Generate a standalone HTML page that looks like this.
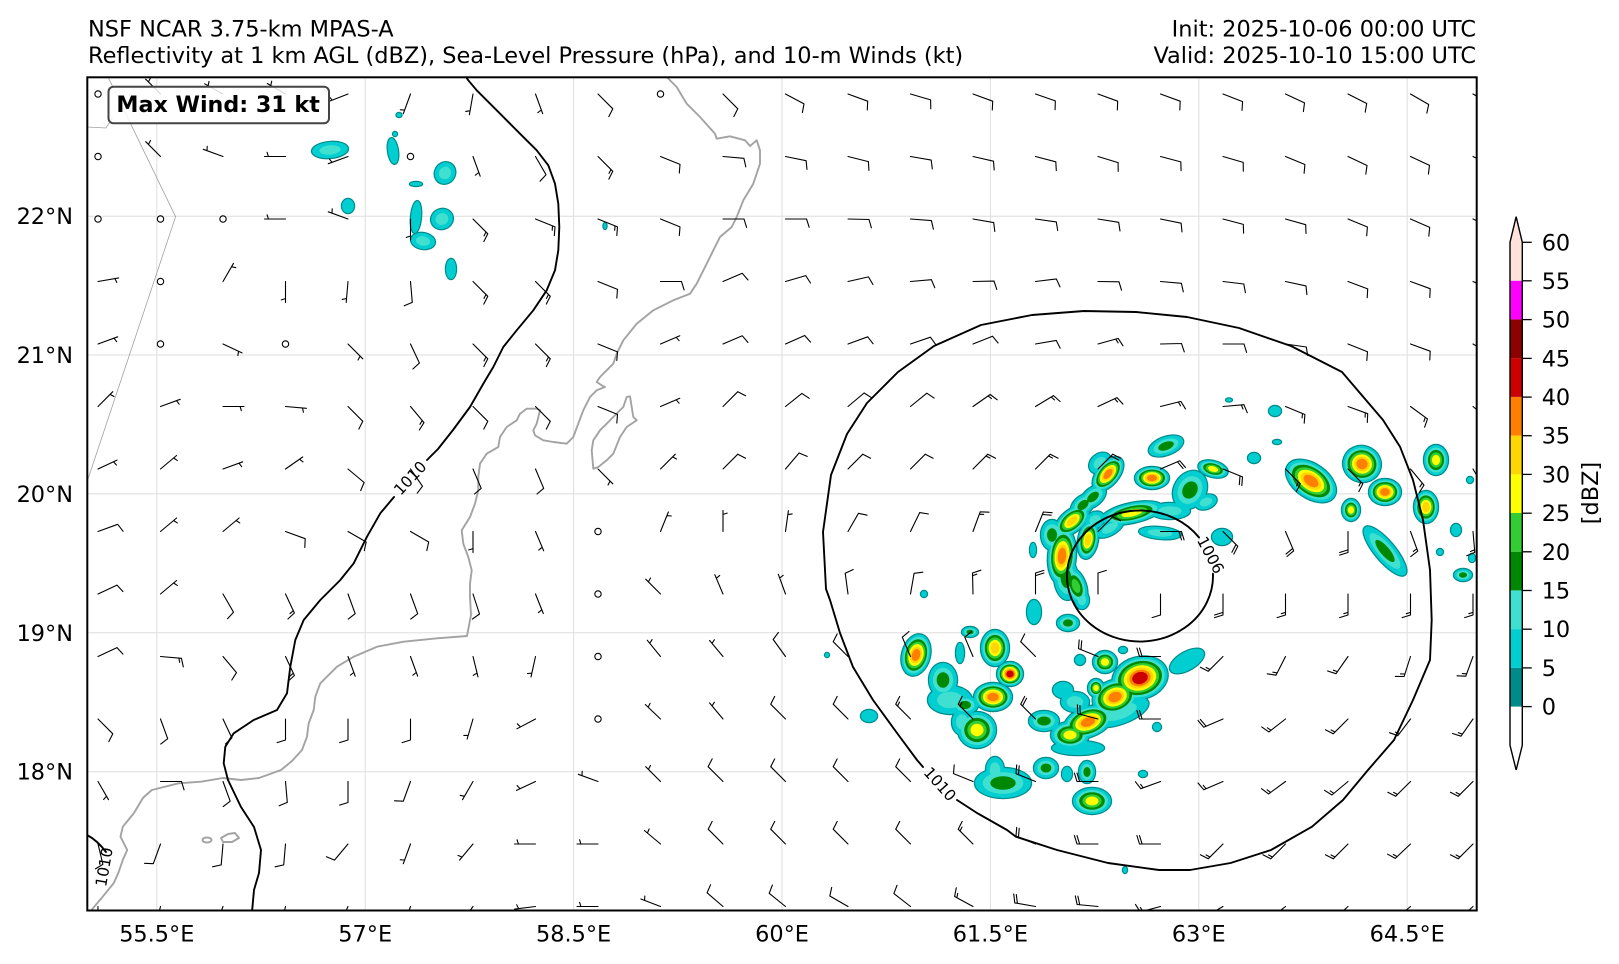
<!DOCTYPE html>
<html><head><meta charset="utf-8">
<style>
html,body{margin:0;padding:0;background:#fff;}
svg{display:block;}
text{font-family:"DejaVu Sans","Liberation Sans",sans-serif;fill:#000;}
</style></head><body>
<svg id="s" width="1619" height="964" viewBox="0 0 1619 964" xmlns="http://www.w3.org/2000/svg">
<defs><clipPath id="mc"><rect x="87.3" y="77.3" width="1389.4" height="833.2"/></clipPath></defs>
<rect width="1619" height="964" fill="#fff"/>
<text x="88" y="36.5" font-size="22.45">NSF NCAR 3.75-km MPAS-A</text>
<text x="88" y="63" font-size="22.45">Reflectivity at 1 km AGL (dBZ), Sea-Level Pressure (hPa), and 10-m Winds (kt)</text>
<text x="1476" y="36.5" font-size="22.45" text-anchor="end">Init: 2025-10-06 00:00 UTC</text>
<text x="1476" y="63" font-size="22.45" text-anchor="end">Valid: 2025-10-10 15:00 UTC</text>

<g clip-path="url(#mc)">
  <g stroke="#dedede" stroke-width="1">
    <line x1="156.8" y1="77" x2="156.8" y2="911"/>
    <line x1="365.2" y1="77" x2="365.2" y2="911"/>
    <line x1="573.6" y1="77" x2="573.6" y2="911"/>
    <line x1="782" y1="77" x2="782" y2="911"/>
    <line x1="990.4" y1="77" x2="990.4" y2="911"/>
    <line x1="1198.8" y1="77" x2="1198.8" y2="911"/>
    <line x1="1407.2" y1="77" x2="1407.2" y2="911"/>
    <line x1="87" y1="216.2" x2="1477" y2="216.2"/>
    <line x1="87" y1="355" x2="1477" y2="355"/>
    <line x1="87" y1="493.9" x2="1477" y2="493.9"/>
    <line x1="87" y1="632.8" x2="1477" y2="632.8"/>
    <line x1="87" y1="771.7" x2="1477" y2="771.7"/>
  </g>
  <g id="refl"></g>
  <g fill="none" stroke="#a0a0a0" stroke-width="0.8">
    <path d="M87,127 L106,128 L113,117"/>
    <path d="M108,77 L175.6,216.7 L87,482"/>
  </g>
  <g fill="none" stroke="#a3a3a3" stroke-width="1.9" stroke-linejoin="round">
    <path d="M666.7,77 L676.7,87 L686.7,103.7 L700,117 L715,133.7 L716.7,138.7 L730,136.3 L745,140.3 L750,146 L756.7,140.3 L760,150.3 L760,163.7 L753.3,183.7 L743.3,200.3 L736.7,217 L731.7,227 L720,237 L713.3,250.3 L706.7,263.7 L696.7,283.7 L690,293.7 L673.3,300.3 L653.3,310.3 L636.7,323.7 L623.3,340.3 L616.7,353.7 L613.3,363.7 L606.7,370.3 L600,377 L596.7,382 L601.7,385.3 L605,387 L596.7,390.3 L590,397 L583.3,410.3 L578.3,423.7 L573.3,437 L566.7,443.7 L553.3,442 L543.3,440.3 L535,435.3 L533.3,430.3 L536.7,423.7 L540,410.3 L536.7,408.7 L526.7,408.7 L520,413.7 L516.7,420.3 L506.7,427 L500,437 L498.3,447 L486.7,453.7 L480,463.7 L478.3,477 L478.3,490.3 L475,503.7 L470,517 L461.7,530.3 L463.3,543.7 L468.3,557 L471.7,570.3 L470,583.7 L470,597 L471,615 L467,636 L437,638.3 L403.7,641.7 L377,646.7 L353.7,656.7 L337,666.7 L320.3,683.3 L315.3,696.7 L313.7,710 L308.7,723.3 L307,736.7 L302,750 L292,761 L281,770 L259,778 L241,780 L223,778 L201,781.7 L178.6,783.3 L151.8,790 L142.9,798 L134,813 L122.8,826.7 L120.5,836.7 L127.2,850 L122.8,860 L118.3,873 L113.8,883 L102.7,896.7 L91.5,910"/>
    <path d="M593.3,468.7 L591.7,450.3 L593.3,440.3 L600,430.3 L606.7,423.7 L613.3,417 L623.3,407 L626.7,397 L630,396.3 L631.7,407 L633.3,417 L636.7,420.3 L626.7,427 L620,437 L613.3,453.7 L606.7,460.3 L598.3,467 Z"/>
    <ellipse cx="207" cy="840" rx="4.5" ry="2.5"/>
    <path d="M221,838 L228,834 L235,833 L239,838 L232,842 L223,842 Z"/>
  </g>
  <g fill="none" stroke="#000" stroke-width="1.9" stroke-linejoin="round" stroke-linecap="round">
    <path d="M466,77 L468.3,80.3 L476.7,90.3 L496.7,110.3 L520,133.7 L536.7,150.3 L548.3,165.3 L555,183.7 L558.3,203.7 L559.3,227 L558.3,250.3 L555,270.3 L546.7,290.3 L533.3,310.3 L516.7,330.3 L503.3,347 L493.3,367 L483.3,383.7 L470,407 L453,430 L438,449 L427,460"/>
    <path d="M394,497 L380.3,513.3 L367,536.7 L353.7,563.3 L340.3,580 L320.3,600 L303.7,620 L295.3,640 L290.3,666.7 L287,693.3 L277,710 L253.7,720 L233.7,733.3 L225.3,746.7 L223.7,763.3 L228,780 L241,807 L254,827 L261,850 L259,873 L254,890 L252,912"/>
    <path d="M957,800 L977,813 L1007,830 L1016,836.7 L1057,850 L1108,863 L1159,870 L1190,870 L1230.6,863 L1271,850 L1312,826.7 L1343,800 L1368,770 L1394,740 L1413,700 L1430,660 L1431.7,620 L1430,570 L1423,520 L1413,480 L1400,446.7 L1383,420 L1342,372 L1291,346 L1239,328 L1187,317 L1136,312 L1084,311 L1032,315 L981,325 L934,346 L898,372 L867,403 L847,434 L831,475 L823,532 L826,589 L830,600 L840,633 L853,667 L873,700 L897,733 L917,760 L923,767"/>
    <path d="M1212.96,573.7 A73,65.5 0 1 1 1199.06,537.5"/>
    <path d="M87,835 Q97,840 106,852"/>
  </g>
  <g font-size="15.5" text-anchor="middle">
    <text x="0" y="0" transform="translate(410,478) rotate(-47)" dy="5.5">1010</text>
    <text x="0" y="0" transform="translate(940,784) rotate(48)" dy="5.5">1010</text>
    <text x="0" y="0" transform="translate(1210.7,555) rotate(62)" dy="5.5">1006</text>
    <text x="0" y="0" transform="translate(104,867) rotate(-80)" dy="5.5">1010</text>
  </g>
  <g id="barbs" stroke="#000" stroke-width="1.1" fill="none" stroke-linecap="round"></g>
</g>
<rect x="87.3" y="77.3" width="1389.4" height="833.2" fill="none" stroke="#000" stroke-width="2"/>

<g font-size="22.4" text-anchor="end">
  <text x="73" y="224.2">22°N</text>
  <text x="73" y="363">21°N</text>
  <text x="73" y="501.9">20°N</text>
  <text x="73" y="640.8">19°N</text>
  <text x="73" y="779.7">18°N</text>
</g>
<g font-size="22.4" text-anchor="middle">
  <text x="156.8" y="941.7">55.5°E</text>
  <text x="365.2" y="941.7">57°E</text>
  <text x="573.6" y="941.7">58.5°E</text>
  <text x="782" y="941.7">60°E</text>
  <text x="990.4" y="941.7">61.5°E</text>
  <text x="1198.8" y="941.7">63°E</text>
  <text x="1407.2" y="941.7">64.5°E</text>
</g>

<g>
  <rect x="1510" y="706.6" width="12.3" height="38.7" fill="#ffffff"/>
  <rect x="1510" y="667.9" width="12.3" height="38.7" fill="#008b8b"/>
  <rect x="1510" y="629.1" width="12.3" height="38.8" fill="#00ced1"/>
  <rect x="1510" y="590.4" width="12.3" height="38.7" fill="#40e0d0"/>
  <rect x="1510" y="551.7" width="12.3" height="38.7" fill="#008800"/>
  <rect x="1510" y="513.0" width="12.3" height="38.7" fill="#32cd32"/>
  <rect x="1510" y="474.3" width="12.3" height="38.7" fill="#ffff00"/>
  <rect x="1510" y="435.6" width="12.3" height="38.7" fill="#ffd700"/>
  <rect x="1510" y="396.9" width="12.3" height="38.7" fill="#ff8000"/>
  <rect x="1510" y="358.1" width="12.3" height="38.8" fill="#cc0000"/>
  <rect x="1510" y="319.4" width="12.3" height="38.7" fill="#8b0000"/>
  <rect x="1510" y="280.7" width="12.3" height="38.7" fill="#ff00ff"/>
  <rect x="1510" y="242.0" width="12.3" height="38.7" fill="#ffe2dc"/>
  <polygon points="1510,242.3 1516.15,216.7 1522.3,242.3" fill="#ffe2dc"/>
  <polygon points="1510,745.3 1516.15,770 1522.3,745.3" fill="#ffffff"/>
  <path d="M1510,242.3 L1516.15,216.7 L1522.3,242.3 L1522.3,745.3 L1516.15,770 L1510,745.3 Z" fill="none" stroke="#000" stroke-width="1.4"/>
  <g stroke="#000" stroke-width="1.3">
    <line x1="1522.3" y1="706.6" x2="1531.7" y2="706.6"/>
    <line x1="1522.3" y1="667.9" x2="1531.7" y2="667.9"/>
    <line x1="1522.3" y1="629.2" x2="1531.7" y2="629.2"/>
    <line x1="1522.3" y1="590.5" x2="1531.7" y2="590.5"/>
    <line x1="1522.3" y1="551.8" x2="1531.7" y2="551.8"/>
    <line x1="1522.3" y1="513.2" x2="1531.7" y2="513.2"/>
    <line x1="1522.3" y1="474.4" x2="1531.7" y2="474.4"/>
    <line x1="1522.3" y1="435.7" x2="1531.7" y2="435.7"/>
    <line x1="1522.3" y1="397.1" x2="1531.7" y2="397.1"/>
    <line x1="1522.3" y1="358.4" x2="1531.7" y2="358.4"/>
    <line x1="1522.3" y1="319.6" x2="1531.7" y2="319.6"/>
    <line x1="1522.3" y1="280.8" x2="1531.7" y2="280.8"/>
    <line x1="1522.3" y1="242.3" x2="1531.7" y2="242.3"/>
  </g>
  <g font-size="22.4">
    <text x="1541.7" y="714.6">0</text>
    <text x="1541.7" y="675.9">5</text>
    <text x="1541.7" y="637.2">10</text>
    <text x="1541.7" y="598.5">15</text>
    <text x="1541.7" y="559.8">20</text>
    <text x="1541.7" y="521.2">25</text>
    <text x="1541.7" y="482.4">30</text>
    <text x="1541.7" y="443.7">35</text>
    <text x="1541.7" y="405.1">40</text>
    <text x="1541.7" y="366.4">45</text>
    <text x="1541.7" y="327.6">50</text>
    <text x="1541.7" y="288.8">55</text>
    <text x="1541.7" y="250.3">60</text>
  </g>
  <text x="0" y="0" font-size="22.4" text-anchor="middle" transform="translate(1598,493) rotate(-90)">[dBZ]</text>
</g>

<rect x="108.5" y="86.7" width="220.5" height="36.6" rx="5" ry="5" fill="#ffffff" fill-opacity="0.85" stroke="#444" stroke-width="2"/>
<text x="116.4" y="112" font-size="22.2" font-weight="bold">Max Wind: 31 kt</text>
</svg>
<script>
(function(){
var C=[
[330,150,18,8,-5,2],[393,151,5,13,-8,1],[445,173,10,11,30,2],[416,184,6,2,0,1],[348,206,6,7,0,1],
[416,217,5,16,5,1],[442,219,11,10,-20,2],[423,241,12,8,10,2],[451,269,5,10,0,1],
[399,115,2.5,2,0,1],[395,134,2,2,0,1],[605,226,1.5,3,0,1],
[1100,463,12,9,-40,2],[1083,505,14,9,-40,3],[1052,535,11,15,0,3],[1066,578,12,22,-5,3],[1095,520,10,8,-30,2],
[1108,474,20,11,-50,7],[1093,497,15,9,-40,3],[1072,521,20,11,-40,6],[1062,556,14,28,5,7],
[1076,586,10,19,-20,4],[1088,540,10,19,10,6],[1082,600,7,9,0,2],[1132,513,31,10,-12,5],
[1110,528,15,7,-30,2],[1170,511,20,8,0,2],[1160,533,21,6,5,2],[1190,490,16,20,30,3],
[1206,502,11,7,-20,2],[1152,478,17,11,0,7],[1166,446,18,9,-20,3],[1213,469,15,8,15,5],
[1254,458,6,5,0,1],[1277,442,4,2,0,1],[1311,481,28,17,35,7],[1362,464,19,18,20,7],
[1385,492,16,13,0,7],[1351,510,9,11,0,5],[1385,551,31,10,50,3],[1426,507,12,16,0,6],
[1436,460,12,15,0,5],[1456,530,5,6,0,1],[1440,552,3,3,0,1],[1463,575,9,6,0,3],
[1470,480,3,3,0,1],[1472,558,3,4,0,1],[1033,550,3,7,0,1],[1068,623,11,8,0,3],
[1222,537,10,8,0,1],[1123,650,4,3,0,1],[1193,653,3,3,0,1],[1229,400,3,1.5,0,1],[1275,411,6,5,0,1],
[916,655,14,21,15,7],[943,680,14,17,0,3],[970,632,8,5,0,3],[960,653,4,10,0,1],
[995,648,14,18,0,6],[1010,674,13,12,0,8],[993,697,19,14,0,7],[965,705,13,9,0,3],
[977,730,19,18,0,5],[962,722,10,13,0,2],[950,700,22,14,0,2],[869,716,8,6,0,1],[827,655,2,2,0,1],[924,594,3,3,0,1],
[1034,612,7,12,0,1],[1063,690,10,8,0,1],[1080,660,5,5,0,1],[1105,662,12,11,0,5],
[1044,721,15,10,0,3],[1140,678,28,21,-15,8],[1115,697,23,17,-20,7],[1096,688,8,9,0,5],
[1120,712,30,12,-20,2],[1075,702,14,10,0,2],
[1088,722,25,15,-20,7],[1070,735,19,13,0,5],[1078,748,26,7,0,1],[1157,727,4,4,0,1],
[1187,661,19,9,-30,1],[1003,783,28,15,0,3],[995,770,9,13,0,2],[1046,768,12,10,0,3],
[1067,774,5,7,0,1],[1087,772,8,11,0,3],[1092,801,19,13,0,5],[1143,774,4,3,0,1],[1125,870,2,3,0,1]
];
var cols=['','#00ced1','#40e0d0','#008800','#32cd32','#ffff00','#ffd700','#ff8000','#cc0000','#8b0000'];
var h='';
function el(c,s,fill,extra){
  return '<ellipse cx="'+c[0]+'" cy="'+c[1]+'" rx="'+(c[2]*s).toFixed(2)+'" ry="'+(c[3]*s).toFixed(2)+'" transform="rotate('+c[4]+' '+c[0]+' '+c[1]+')" fill="'+fill+'"'+(extra||'')+'/>';
}
var i,k,c;
for(i=0;i<C.length;i++){h+=el(C[i],1,'#008b8b',' stroke="#008b8b" stroke-width="2.4"');}
for(k=1;k<=9;k++){
  for(i=0;i<C.length;i++){
    c=C[i];var P=c[5];if(P<k)continue;
    var s=(k==1)?1:1-(k-1)/P*0.82;
    h+=el(c,s,cols[k]);
  }
}
document.getElementById('refl').innerHTML=h;

var A=[
[8,0,135,10],[10,0,135,10],[12,0,110,10],[14,0,110,10],[16,0,110,10],[17,0,110,10],[19,0,115,10],[21,0,120,10],[22,0,120,10],[1,0,315,5],[3,0,300,5],[5,0,200,5],[6,0,190,5],[7,0,160,5],
[1,1,315,5],[2,1,290,5],[3,1,270,5],[4,1,250,5],[6,1,160,5],[7,1,150,10],[8,1,135,15],[9,1,112,10],[10,1,95,10],[13,1,100,10],[17,1,105,10],[21,1,115,10],
[3,2,270,5],[4,2,290,5],[5,2,180,5],[6,2,135,15],[7,2,112,15],[8,2,112,15],[9,2,112,10],[10,2,90,10],[14,2,100,10],[18,2,105,10],[22,2,115,10],
[0,3,80,5],[2,3,30,5],[3,3,180,5],[4,3,185,5],[5,3,175,10],[6,3,135,15],[7,3,135,15],[8,3,112,10],[9,3,90,10],[10,3,67,10],[13,3,85,10],[17,3,95,10],[21,3,110,10],
[0,4,70,5],[2,4,115,5],[4,4,135,5],[5,4,155,10],[6,4,135,15],[7,4,135,15],[8,4,112,10],[9,4,67,5],[10,4,67,10],[12,4,70,10],[15,4,80,10],[18,4,90,10],[21,4,110,10],
[0,5,45,5],[1,5,70,5],[2,5,90,5],[3,5,95,5],[4,5,135,10],[5,5,140,15],[6,5,135,10],[7,5,135,10],[8,5,112,10],[9,5,67,5],[10,5,45,10],[12,5,50,10],[14,5,55,15],[16,5,65,15],[18,5,85,15],[20,5,110,15],[22,5,130,10],
[0,6,65,5],[1,6,50,5],[2,6,70,5],[3,6,55,5],[4,6,130,10],[5,6,145,10],[6,6,157,10],[7,6,157,10],[8,6,135,5],[9,6,45,5],[10,6,45,10],[12,6,45,10],[13,6,45,10],[14,6,45,15],[15,6,45,15],[16,6,45,20],[17,6,67,20],[18,6,112,20],[19,6,135,15],[20,6,135,15],[21,6,140,15],[22,6,150,15],
[0,7,70,10],[1,7,50,5],[2,7,50,5],[3,7,110,10],[4,7,120,10],[5,7,120,10],[6,7,180,5],[7,7,157,5],[9,7,22,5],[10,7,0,5],[12,7,30,10],[14,7,20,15],[15,7,22,20],[16,7,45,10],[17,7,90,20],[18,7,135,20],[19,7,157,20],[20,7,180,20],[21,7,160,15],[22,7,175,15],
[0,8,65,10],[1,8,50,5],[2,8,150,10],[3,8,155,15],[4,8,160,10],[5,8,160,10],[9,8,315,5],[10,8,337,5],[11,8,340,5],[13,8,10,10],[15,8,0,20],[16,8,0,10],[17,8,180,10],[18,8,180,20],[19,8,180,15],[20,8,180,15],[21,8,180,15],[22,8,180,15],
[0,9,65,10],[1,9,95,15],[2,9,140,10],[3,9,155,15],[4,9,160,5],[5,9,160,5],[10,9,320,5],[12,9,315,10],[13,9,337,10],[14,9,337,10],[15,9,315,10],[16,9,292,20],[17,9,270,20],[18,9,225,15],[20,9,215,15],[22,9,200,15],
[0,10,135,10],[1,10,160,10],[2,10,155,10],[3,10,180,10],[4,10,180,10],[5,10,180,10],[10,10,320,5],[11,10,315,10],[12,10,315,10],[13,10,315,15],[14,10,315,15],[15,10,315,20],[16,10,285,20],[17,10,270,20],[18,10,247,20],[20,10,225,15],[22,10,215,15],
[0,11,150,5],[1,11,90,10],[3,11,175,10],[4,11,180,10],[5,11,200,10],[6,11,210,5],[7,11,245,5],[8,11,290,5],[9,11,315,5],[11,11,315,10],[12,11,315,10],[13,11,315,10],[14,11,292,10],[15,11,292,20],[16,11,270,20],[17,11,250,15],[18,11,247,15],[20,11,230,15],[22,11,225,15],
[1,12,200,10],[2,12,185,10],[3,12,185,10],[4,12,220,10],[5,12,200,5],[6,12,220,5],[7,12,270,5],[8,12,270,5],[9,12,310,5],[10,12,315,10],[11,12,315,10],[12,12,315,10],[13,12,315,10],[14,12,315,15],[15,12,292,20],[16,12,270,20],[17,12,270,20],[18,12,225,15],[19,12,225,15],[20,12,225,15],[22,12,225,15],
[2,13,200,5],[5,13,200,5],[8,13,270,5],[12,13,300,10],[15,13,280,20],[18,13,240,15],[21,13,230,15]
];
var calm={'0,0':1,'9,0':1,'0,1':1,'5,1':1,'0,2':1,'1,2':1,'2,2':1,'1,3':1,'1,4':1,'3,4':1,'8,7':1,'8,8':1,'8,9':1,'8,10':1};
var map={};for(i=0;i<A.length;i++){map[A[i][0]+','+A[i][1]]=A[i];}
var L=21,sp=0.125*L,b='';
function f(v){return v.toFixed(1);}
for(var j=0;j<14;j++){for(var ii=0;ii<23;ii++){
  var px=98+62.5*ii,py=94+62.5*j,key=ii+','+j;
  if(calm[key]){b+='<circle cx="'+px+'" cy="'+py+'" r="3.2"/>';continue;}
  var dir,spd,a=map[key];
  if(a){dir=a[2];spd=a[3];}
  else{
    var su=0,sv=0,ss=0,sw=0;
    for(var q=0;q<A.length;q++){
      var d2=Math.pow(A[q][0]-ii,2)+Math.pow(A[q][1]-j,2);
      var w=1/(d2*d2);var r=A[q][2]*Math.PI/180;
      su+=w*Math.sin(r);sv+=w*Math.cos(r);ss+=w*A[q][3];sw+=w;
    }
    dir=Math.atan2(su,sv)*180/Math.PI;spd=ss/sw;
  }
  var s5=Math.round(spd/5)*5;if(s5<5)s5=5;
  var rr=dir*Math.PI/180,dx=Math.sin(rr),dy=-Math.cos(rr),rx=-dy,ry=dx;
  var p='M'+f(px)+','+f(py)+'L'+f(px+L*dx)+','+f(py+L*dy);
  var n=Math.floor(s5/10),half=(s5%10)>=5,off=L;
  for(k=0;k<n;k++){
    var bx=px+off*dx,by=py+off*dy;
    p+='M'+f(bx)+','+f(by)+'L'+f(bx+0.4*L*rx+0.125*L*dx)+','+f(by+0.4*L*ry+0.125*L*dy);
    off-=sp;
  }
  if(half){
    if(n==0)off-=1.5*sp;
    var hx=px+off*dx,hy=py+off*dy;
    p+='M'+f(hx)+','+f(hy)+'L'+f(hx+0.2*L*rx+0.0625*L*dx)+','+f(hy+0.2*L*ry+0.0625*L*dy);
  }
  b+='<path d="'+p+'"/>';
}}
document.getElementById('barbs').innerHTML=b;
})();
</script>
</body></html>
